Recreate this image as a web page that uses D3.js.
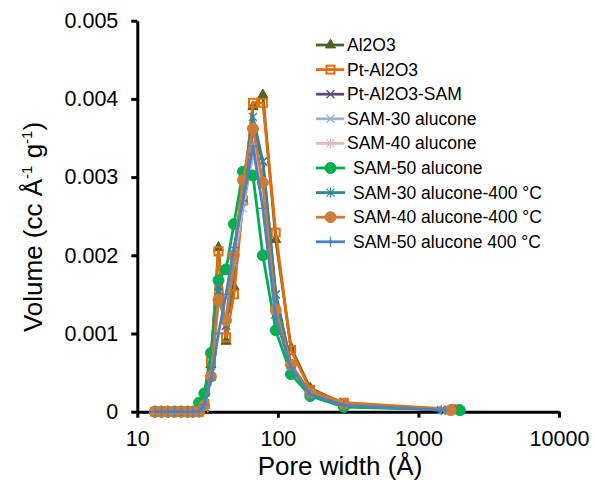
<!DOCTYPE html>
<html><head><meta charset="utf-8">
<script src="https://cdnjs.cloudflare.com/ajax/libs/d3/7.8.5/d3.min.js"></script>
<style>body{margin:0;background:#fff}svg{display:block}text{font-family:"Liberation Sans",Arial,sans-serif;fill:#000}</style>
</head><body><svg id="c" width="594" height="480"></svg>
<script>
const poreWidth = [13.4,14.9,16.5,18.4,20.5,22.8,24.9,27.5,30.0,33.4,37.8,42.8,48.7,56.5,66.5,78.2,96.6,124,170,295];
const seriesNames = ["Al2O3","Pt-Al2O3","Pt-Al2O3-SAM","SAM-30 alucone","SAM-40 alucone","SAM-50 alucone","SAM-30 alucone-400 °C","SAM-40 alucone-400 °C","SAM-50 alucone 400 °C"];
const tailWidth = [1800,1800,1500,1500,1600,1970,1450,1700,1550];
const al2o3      = [0,0,0,0,0,0,0,0,0.00008,0.0006,0.0021,0.0009,0.0016,0.0027,0.0039,0.00405,0.0022,0.00082,0.0003,0.0001,0.00002];
const ptAl2o3    = [0,0,0,0,0,0,0,0,0.0001,0.00064,0.00205,0.00095,0.0015,0.0027,0.00395,0.00395,0.00229,0.00079,0.00028,0.000115,0.00003];
const ptAl2o3Sam = [0,0,0,0,0,0,0,0,0.00006,0.0005,0.0016,0.0011,0.0019,0.0028,0.0036,0.0032,0.0015,0.0006,0.00024,0.00009,0.00002];
const sam30      = [0,0,0,0,0,0,0,0,0.00005,0.00045,0.0014,0.0012,0.0019,0.0026,0.0033,0.0029,0.0013,0.00055,0.00022,0.00008,0.00002];
const sam40      = [0,0,0,0,0,0,0,0,0.00005,0.00045,0.0015,0.0012,0.0020,0.0027,0.0034,0.0029,0.0014,0.00058,0.00023,0.00008,0.00002];
const sam50      = [0,0,0,0,0,0,0,0.000115,0.000235,0.00075,0.00168,0.00182,0.0024,0.00307,0.00302,0.0020,0.00104,0.00048,0.0002,0.00006,0.00002];
const sam30_400  = [0,0,0,0,0,0,0,0,0.00006,0.0005,0.0016,0.0011,0.0020,0.0029,0.00377,0.0032,0.0015,0.0006,0.00024,0.00009,0.00002];
const sam40_400  = [0,0,0,0,0,0,0,0,0.00008,0.00045,0.00143,0.00117,0.0020,0.00296,0.00362,0.00293,0.0013,0.0006,0.00024,0.0001,0.00002];
const sam50_400  = [0,0,0,0,0,0,0,0,0.00009,0.0004,0.0010,0.0015,0.0021,0.0027,0.0034,0.0026,0.0012,0.00056,0.00022,0.00008,0.00002];
const xTicks = [10,100,1000,10000];
const yTicks = [0,0.001,0.002,0.003,0.004,0.005];

const allValues = [al2o3,ptAl2o3,ptAl2o3Sam,sam30,sam40,sam50,sam30_400,sam40_400,sam50_400];
const colors = ["#4F6228","#E46C0A","#604A7B","#95B3D7","#E6B9B8","#00B050","#31859C","#CC7B38","#4F81BD"];
const markers = ["tri","square","x","x","star","circle","star","circle","plus"];

const svg = d3.select("#c");
const x = d3.scaleLog().domain([10,10000]).range([137.3,559]);
const y = d3.scaleLinear().domain([0,0.005]).range([411.7,20.7]);

// axes
const gy = svg.append("g").attr("transform","translate(137.3,0)")
  .call(d3.axisLeft(y).tickValues(yTicks).tickSize(6).tickSizeOuter(0).tickPadding(13)
    .tickFormat(d=>d===0?"0":d3.format(".3f")(d)));
const gx = svg.append("g").attr("transform","translate(0,411.7)")
  .call(d3.axisBottom(x).tickValues(xTicks).tickSize(6).tickSizeOuter(0).tickPadding(13)
    .tickFormat(d3.format("d")));
[gx,gy].forEach(g=>{
  g.select(".domain").attr("stroke","#000").attr("stroke-width",3);
  g.selectAll(".tick line").attr("stroke","#000").attr("stroke-width",3);
  g.selectAll(".tick text").attr("font-size",21.5).attr("font-family","Liberation Sans, Arial, sans-serif").attr("fill","#000");
});

// titles
svg.append("text").attr("x",340).attr("y",475).attr("text-anchor","middle").attr("font-size",26).text("Pore width (Å)");
const yt = svg.append("text").attr("transform","translate(42,227) rotate(-90)").attr("text-anchor","middle").attr("font-size",26);
yt.append("tspan").text("Volume (cc Å");
yt.append("tspan").attr("font-size",15).attr("dy",-10).text("-1");
yt.append("tspan").attr("dy",10).text(" g");
yt.append("tspan").attr("font-size",15).attr("dy",-10).text("-1");
yt.append("tspan").attr("dy",10).text(")");

function drawMarker(g, type, color, cx, cy){
  const s = 4;
  if(type==="tri") g.append("path").attr("d",d3.symbol(d3.symbolTriangle,45)()).attr("transform",`translate(${cx},${cy})`).attr("fill",color).attr("stroke",color).attr("stroke-width",1);
  else if(type==="square") g.append("rect").attr("x",cx-4).attr("y",cy-4).attr("width",8).attr("height",8).attr("fill","none").attr("stroke",color).attr("stroke-width",2);
  else if(type==="circle") g.append("circle").attr("cx",cx).attr("cy",cy).attr("r",5.5).attr("fill",color).attr("stroke",color);
  else if(type==="x") g.append("path").attr("d",`M${cx-s},${cy-s}L${cx+s},${cy+s}M${cx-s},${cy+s}L${cx+s},${cy-s}`).attr("stroke",color).attr("stroke-width",1.3).attr("fill","none");
  else if(type==="star") g.append("path").attr("d",`M${cx-s},${cy-s}L${cx+s},${cy+s}M${cx-s},${cy+s}L${cx+s},${cy-s}M${cx},${cy-s-1}L${cx},${cy+s+1}`).attr("stroke",color).attr("stroke-width",1.3).attr("fill","none");
  else if(type==="plus") g.append("path").attr("d",`M${cx-s-1},${cy}L${cx+s+1},${cy}M${cx},${cy-s-1}L${cx},${cy+s+1}`).attr("stroke",color).attr("stroke-width",1.3).attr("fill","none");
}

const line = d3.line().x(d=>x(d[0])).y(d=>y(d[1]));
const plot = svg.append("g");
allValues.forEach((vals,i)=>{
  const pts = vals.map((v,j)=>[j<poreWidth.length?poreWidth[j]:tailWidth[i], v]);
  const g = plot.append("g");
  g.append("path").datum(pts).attr("d",line).attr("fill","none").attr("stroke",colors[i]).attr("stroke-width",2.8).attr("stroke-linejoin","round");
  pts.forEach(p=>drawMarker(g, markers[i], colors[i], x(p[0]), y(p[1])));
});

// legend
const legRowY = d3.range(seriesNames.length).map(i=>45+i*24.6);
seriesNames.forEach((name,i)=>{
  const g = svg.append("g");
  const yy = legRowY[i];
  const big = i>=5;
  g.append("line").attr("x1",316).attr("x2",big?345:344).attr("y1",yy).attr("y2",yy).attr("stroke",colors[i]).attr("stroke-width",2.8);
  drawMarker(g, markers[i], colors[i], 330.5, yy);
  g.append("text").attr("x",big?353:347).attr("y",yy+6).attr("font-size",17.5).text(name);
});
</script></body></html>
